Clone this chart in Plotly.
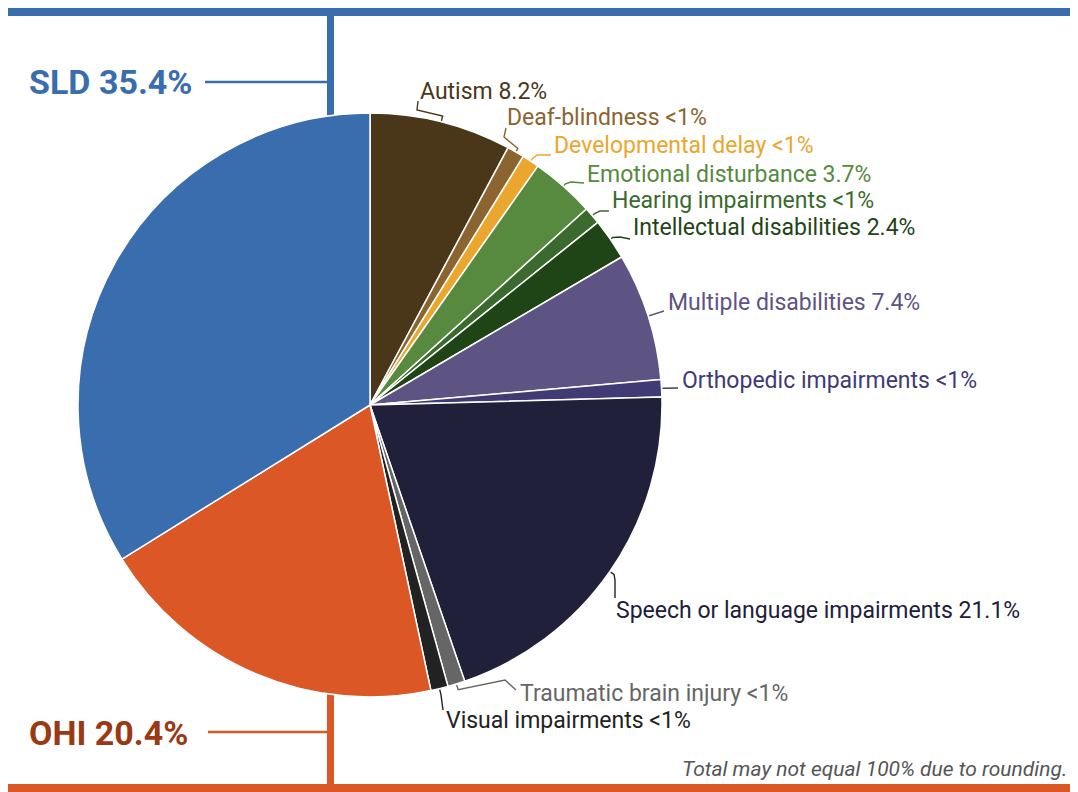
import math
import plotly.graph_objects as go

# ---------------- data ----------------
categories = ["Autism", "Deaf-blindness", "Developmental delay", "Emotional disturbance",
              "Hearing impairments", "Intellectual disabilities", "Multiple disabilities",
              "Orthopedic impairments", "Speech or language impairments",
              "Traumatic brain injury", "Visual impairments",
              "OHI", "SLD"]
values = [8.2, 1.0, 1.0, 3.7, 1.0, 2.4, 7.4, 1.0, 21.1, 1.0, 1.0, 20.4, 35.4]
value_labels = ["8.2%", "<1%", "<1%", "3.7%", "<1%", "2.4%", "7.4%", "<1%", "21.1%",
                "<1%", "<1%", "20.4%", "35.4%"]
slice_colors = ["#4A3719", "#8B6430", "#EBA62D", "#57893F", "#3A6A2E", "#1F4516",
                "#5E5483", "#403A75", "#21203A", "#666666", "#222222", "#DC5726", "#3A6DAD"]
text_colors = ["#4A3719", "#8B6430", "#EBA62D", "#57893F", "#3A6A2E", "#1F4516",
               "#5E5483", "#403A75", "#21203A", "#666666", "#222222", "#9A3A14", "#3A6DAD"]
note = "Total may not equal 100% due to rounding."

# ---------------- layout geometry (page pixels) ----------------
PAGE_W, PAGE_H = 1078, 792
OFF = 8                      # default body margin of the html page
W, H = PAGE_W - OFF, PAGE_H - OFF
CX, CY, R = 370, 405, 292

def px(x):
    return (x - OFF) / W

def py(y):
    return 1 - (y - OFF) / H

# label anchor (left x, middle y) for small-slice labels, keyed by index
label_pos = {0: (418, 92), 1: (505, 118), 2: (552, 146), 3: (585, 174), 4: (610, 200),
             5: (631, 228), 6: (666, 302), 7: (680, 380), 8: (614, 610), 9: (518, 693),
             10: (444, 720)}
# leader bend points after the radial stub
leader_bends = {0: [(417, 110), (418, 101)], 1: [(504, 137), (506, 128)],
                2: [(537, 155), (551, 155)], 3: [(571, 182), (584, 183)],
                4: [(600, 211), (609, 211)], 5: [(620, 237), (630, 239)],
                6: [(664, 311)], 7: [(678, 388)], 8: [(615, 580), (615, 598)],
                9: [(505, 680), (516, 690)], 10: [(443, 710)]}
stub = {0: 6, 1: 4, 2: 3, 3: 3, 4: 3, 5: 3, 6: 2, 7: 2, 8: 5, 9: 6, 10: 6}

fig = go.Figure()
fig.add_trace(go.Pie(
    labels=categories, values=values, sort=False, direction="clockwise", rotation=0,
    marker=dict(colors=slice_colors, line=dict(color="white", width=1.5)),
    textinfo="none", hoverinfo="label+value", showlegend=False,
    domain=dict(x=[px(CX - R), px(CX + R)], y=[py(CY + R), py(CY - R)]),
))

shapes = []
annotations = []

# decorative bars and connectors
BLUE, ORANGE = "#3A6DAD", "#DC5726"
shapes.append(dict(type="rect", xref="paper", yref="paper", x0=px(7), x1=px(PAGE_W), y0=py(16), y1=py(8),
                   fillcolor=BLUE, line=dict(width=0), layer="below"))
shapes.append(dict(type="rect", xref="paper", yref="paper", x0=px(327), x1=px(334), y0=py(130), y1=py(15),
                   fillcolor=BLUE, line=dict(width=0), layer="below"))
shapes.append(dict(type="line", xref="paper", yref="paper", x0=px(205), x1=px(330), y0=py(82), y1=py(82),
                   line=dict(color=BLUE, width=2.5), layer="below"))
shapes.append(dict(type="rect", xref="paper", yref="paper", x0=px(7), x1=px(PAGE_W), y0=py(PAGE_H), y1=py(784),
                   fillcolor=ORANGE, line=dict(width=0), layer="below"))
shapes.append(dict(type="rect", xref="paper", yref="paper", x0=px(327), x1=px(334), y0=py(785), y1=py(685),
                   fillcolor=ORANGE, line=dict(width=0), layer="below"))
shapes.append(dict(type="line", xref="paper", yref="paper", x0=px(208), x1=px(330), y0=py(732), y1=py(732),
                   line=dict(color=ORANGE, width=2.5), layer="below"))

# slice labels with leaders computed from data angles
total = sum(values)
cum = 0.0
for i, v in enumerate(values):
    mid = (cum + v / 2) / total * 2 * math.pi
    cum += v
    if i not in label_pos:
        continue
    s0 = (CX + (R + 1) * math.sin(mid), CY - (R + 1) * math.cos(mid))
    s1 = (CX + (R + stub[i]) * math.sin(mid), CY - (R + stub[i]) * math.cos(mid))
    pts = [s0, s1] + leader_bends[i]
    path = "M " + " L ".join(f"{px(x):.5f},{py(y):.5f}" for x, y in pts)
    shapes.append(dict(type="path", xref="paper", yref="paper", path=path,
                       line=dict(color=text_colors[i], width=1.4)))
    lx, ly = label_pos[i]
    annotations.append(dict(x=px(lx), y=py(ly), xref="paper", yref="paper", xanchor="left",
                            yanchor="middle", showarrow=False,
                            text=f"{categories[i]} {value_labels[i]}",
                            font=dict(family="Roboto", size=23, color=text_colors[i])))

# big labels for SLD and OHI
annotations.append(dict(x=px(27), y=py(82), xref="paper", yref="paper", xanchor="left", yanchor="middle",
                        showarrow=False, text=f"<b>{categories[12]} {value_labels[12]}</b>",
                        font=dict(family="Roboto", size=34, color=text_colors[12])))
annotations.append(dict(x=px(27), y=py(733), xref="paper", yref="paper", xanchor="left", yanchor="middle",
                        showarrow=False, text=f"<b>{categories[11]} {value_labels[11]}</b>",
                        font=dict(family="Roboto", size=34, color=text_colors[11])))
annotations.append(dict(x=px(1069), y=py(769), xref="paper", yref="paper", xanchor="right", yanchor="middle",
                        showarrow=False, text=f"<i>{note}</i>",
                        font=dict(family="Roboto", size=21, color="#555555")))

fig.update_layout(width=W, height=H, margin=dict(l=0, r=0, t=0, b=0),
                  paper_bgcolor="white", plot_bgcolor="white",
                  shapes=shapes, annotations=annotations)

fig.write_html("out.html")
